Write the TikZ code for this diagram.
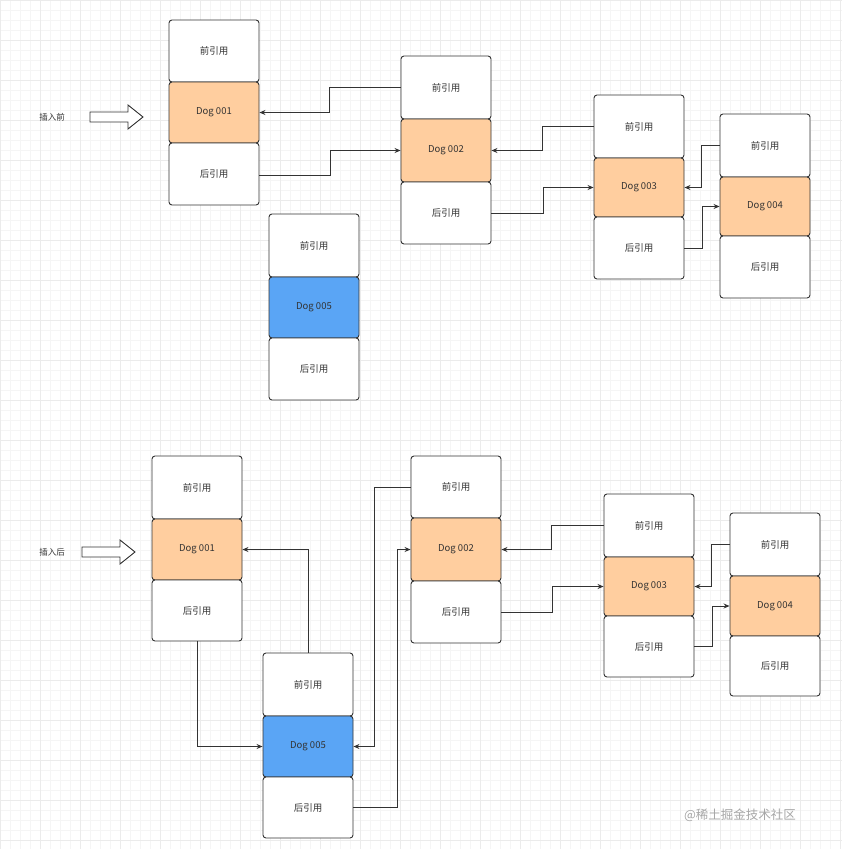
\documentclass[tikz,border=0pt]{standalone}
\usepackage{fontspec}
\setmainfont{Noto Sans CJK SC}
\usetikzlibrary{arrows.meta}
\begin{document}
\begin{tikzpicture}[x=1pt,y=-1pt,
 cell/.style={draw=black!80,line width=0.9pt,rounded corners=3pt,minimum width=90pt,font=\fontsize{9.5}{10}\selectfont,text=black!80},
 w/.style={cell,fill=white},
 o/.style={cell,fill={rgb,255:red,255;green,206;blue,159}},
 b/.style={cell,fill={rgb,255:red,90;green,165;blue,245}},
 con/.style={draw=black!80,line width=0.9pt,-{Stealth[length=6pt,width=5pt]}},
 harrow/.style={draw=black!80,line width=0.9pt,fill=white}]
\useasboundingbox (0,0) rectangle (842,849);
\fill[white] (0,0) rectangle (842,849);
\foreach \i in {0,10,...,840} {\draw[black!4,line width=0.4pt] (\i,0) -- (\i,849);}
\foreach \i in {0,10,...,849} {\draw[black!4,line width=0.4pt] (0,\i) -- (842,\i);}
\foreach \i in {0,40,...,840} {\draw[black!8,line width=0.5pt] (\i,0) -- (\i,849);}
\foreach \i in {0,40,...,849} {\draw[black!8,line width=0.5pt] (0,\i) -- (842,\i);}
% top
\node[font=\fontsize{8.5}{9}\selectfont,text=black!80] (t1) at (52,117) {插入前};
\draw[harrow] (90,112) -- (128,112) -- (128,105) -- (143,117) -- (128,129) -- (128,122) -- (90,122) -- cycle;
\node[w,minimum height=62pt] (A1) at (214,51) {前引用};
\node[o,minimum height=61pt] (A2) at (214,112.5) {Dog 001};
\node[w,minimum height=62pt] (A3) at (214,174) {后引用};
\node[w,minimum height=63pt] (B1) at (446,87.5) {前引用};
\node[o,minimum height=63pt] (B2) at (446,150.5) {Dog 002};
\node[w,minimum height=62pt] (B3) at (446,213) {后引用};
\node[w,minimum height=63pt] (C1) at (639,126.5) {前引用};
\node[o,minimum height=59pt] (C2) at (639,187.5) {Dog 003};
\node[w,minimum height=62pt] (C3) at (639,248) {后引用};
\node[w,minimum height=63pt] (D1) at (765,145.5) {前引用};
\node[o,minimum height=59pt] (D2) at (765,206.5) {Dog 004};
\node[w,minimum height=62pt] (D3) at (765,267) {后引用};
\node[w,minimum height=63pt] (E1) at (314,245.5) {前引用};
\node[b,minimum height=61pt] (E2) at (314,307.5) {Dog 005};
\node[w,minimum height=62pt] (E3) at (314,369) {后引用};
\draw[con] (B1.west) -- ++(-71,0) |- (A2.east);
\draw[con] (A3.east) ++(0,1) -- ++(71,0) |- (B2.west);
\draw[con] (C1.west) -- ++(-51,0) |- (B2.east);
\draw[con] (B3.east) -- ++(52,0) |- (C2.west);
\draw[con] (D1.west) -- ++(-18,0) |- (C2.east);
\draw[con] (C3.east) -- ++(18,0) |- (D2.west);
% bottom
\node[font=\fontsize{8.5}{9}\selectfont,text=black!80] (t2) at (52,552) {插入后};
\draw[harrow] (82,547) -- (120,547) -- (120,540) -- (135,552) -- (120,564) -- (120,557) -- (82,557) -- cycle;
\node[w,minimum height=63pt] (a1) at (197,487.5) {前引用};
\node[o,minimum height=61pt] (a2) at (197,549.5) {Dog 001};
\node[w,minimum height=61pt] (a3) at (197,610.5) {后引用};
\node[w,minimum height=62pt] (b1) at (456,487) {前引用};
\node[o,minimum height=63pt] (b2) at (456,549.5) {Dog 002};
\node[w,minimum height=62pt] (b3) at (456,612) {后引用};
\node[w,minimum height=63pt] (c1) at (649,525.5) {前引用};
\node[o,minimum height=59pt] (c2) at (649,586.5) {Dog 003};
\node[w,minimum height=61pt] (c3) at (649,646.5) {后引用};
\node[w,minimum height=63pt] (d1) at (775,544.5) {前引用};
\node[o,minimum height=60pt] (d2) at (775,606) {Dog 004};
\node[w,minimum height=60pt] (d3) at (775,666) {后引用};
\node[w,minimum height=63pt] (e1) at (308,684.5) {前引用};
\node[b,minimum height=61pt] (e2) at (308,746.5) {Dog 005};
\node[w,minimum height=61pt] (e3) at (308,807.5) {后引用};
\draw[con] (e1.north) |- (a2.east);
\draw[con] (a3.south) |- (e2.west);
\draw[con] (b1.west) -- ++(-36,0) |- (e2.east);
\draw[con] (e3.east) -- ++(44,0) |- (b2.west);
\draw[con] (c1.west) -- ++(-52,0) |- (b2.east);
\draw[con] (b3.east) -- ++(51,0) |- (c2.west);
\draw[con] (d1.west) -- ++(-18,0) |- (c2.east);
\draw[con] (c3.east) -- ++(18,0) |- (d2.west);
\node[text=black!35,font=\fontsize{12.5}{13}\selectfont] (wm) at (740,815) {@稀土掘金技术社区};
\end{tikzpicture}
\end{document}
